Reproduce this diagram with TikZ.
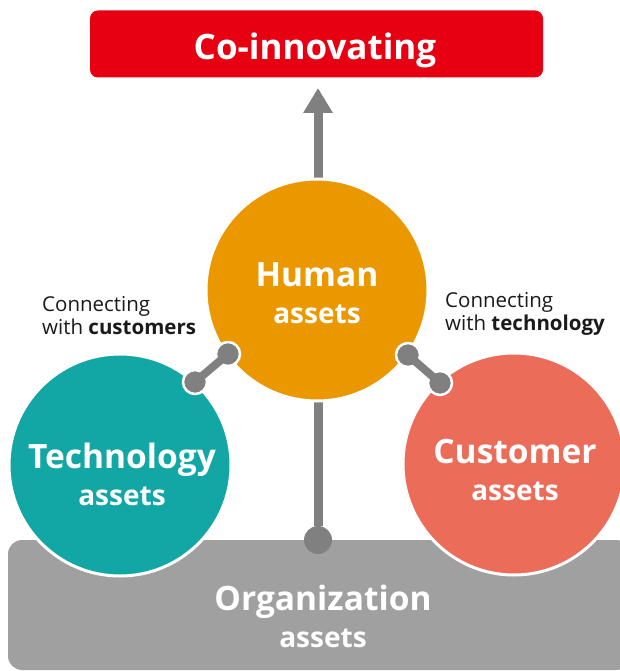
\documentclass[tikz,border=0pt]{standalone}
\usepackage{fontspec}
\setmainfont{Open Sans}
\usetikzlibrary{arrows.meta,positioning}
\definecolor{coRed}{RGB}{230,0,18}
\definecolor{humanOrange}{RGB}{235,151,0}
\definecolor{techTeal}{RGB}{18,166,164}
\definecolor{custSalmon}{RGB}{236,108,90}
\definecolor{orgGray}{RGB}{159,160,159}
\definecolor{linkGray}{RGB}{128,128,128}
\definecolor{labelInk}{RGB}{26,26,26}
\newcommand\smallline{\fontsize{28}{37}\selectfont}
\tikzset{every picture/.append style={x=1pt,y=-1pt}}

\begin{document}
\begin{tikzpicture}
      \tikzstyle{asset}=[circle,draw=white,line width=3pt,minimum size=222pt,inner sep=0pt]
      \tikzstyle{assettext}=[text=white,align=center,inner sep=0pt,font=\bfseries\fontsize{33.5}{37}\selectfont]
      \tikzstyle{linkdot}=[circle,fill=linkGray,draw=white,line width=2.5pt,minimum size=24pt,inner sep=0pt]
      \tikzstyle{linkline}=[draw=linkGray,line width=8pt]
      \tikzstyle{remark}=[text=labelInk,align=left,anchor=west,inner sep=0pt,font=\fontsize{20.5}{23}\selectfont]
      \useasboundingbox (0,0) rectangle (620,671);
      % goal on top
      \node[fill=coRed,rounded corners=8pt,minimum width=453pt,minimum height=67pt] at (316.5,44) (goal) {};
      \node[text=white,anchor=base,inner sep=0pt,font=\bfseries\fontsize{35}{40}\selectfont] at (315,60) (goalT) {Co-innovating};
      % base of the organization
      \node[fill=orgGray,rounded corners=14pt,minimum width=622pt,minimum height=130pt] at (319,605) (org) {};
      \node[assettext] at (323,616) (orgT) {Organization\\\smallline assets};
      \node[circle,fill=linkGray,minimum size=28pt,inner sep=0pt] at (318,540) (base) {};
      \coordinate (tip) at (318,88);
      \draw[draw=linkGray,line width=9pt,-{Triangle[width=28pt,length=25pt]}] (base) -- (tip);
      % the three assets
      \node[asset,fill=humanOrange] at (317,290) (human) {};
      \node[asset,fill=techTeal] at (120,465) (tech) {};
      \node[asset,fill=custSalmon] at (514,464) (cust) {};
      \node[assettext] at (317,293) (humanT) {Human\\\smallline assets};
      \node[assettext] at (122,474) (techT) {Technology\\\smallline assets};
      \node[assettext] at (515,470) (custT) {Customer\\\smallline assets};
      % links between assets
      \node[linkdot] at (228,354) (hl) {};
      \node[linkdot] at (195,382) (tl) {};
      \node[linkdot] at (408,355) (hr) {};
      \node[linkdot] at (440,383) (cr) {};
      \draw[linkline] (hl.center) -- (tl.center);
      \draw[linkline] (hr.center) -- (cr.center);
      \node[remark] at (42,316) (remL) {Connecting\\with \textbf{customers}};
      \node[remark] at (445,314) (remR) {Connecting\\with \textbf{technology}};
    \end{tikzpicture}
\end{document}
